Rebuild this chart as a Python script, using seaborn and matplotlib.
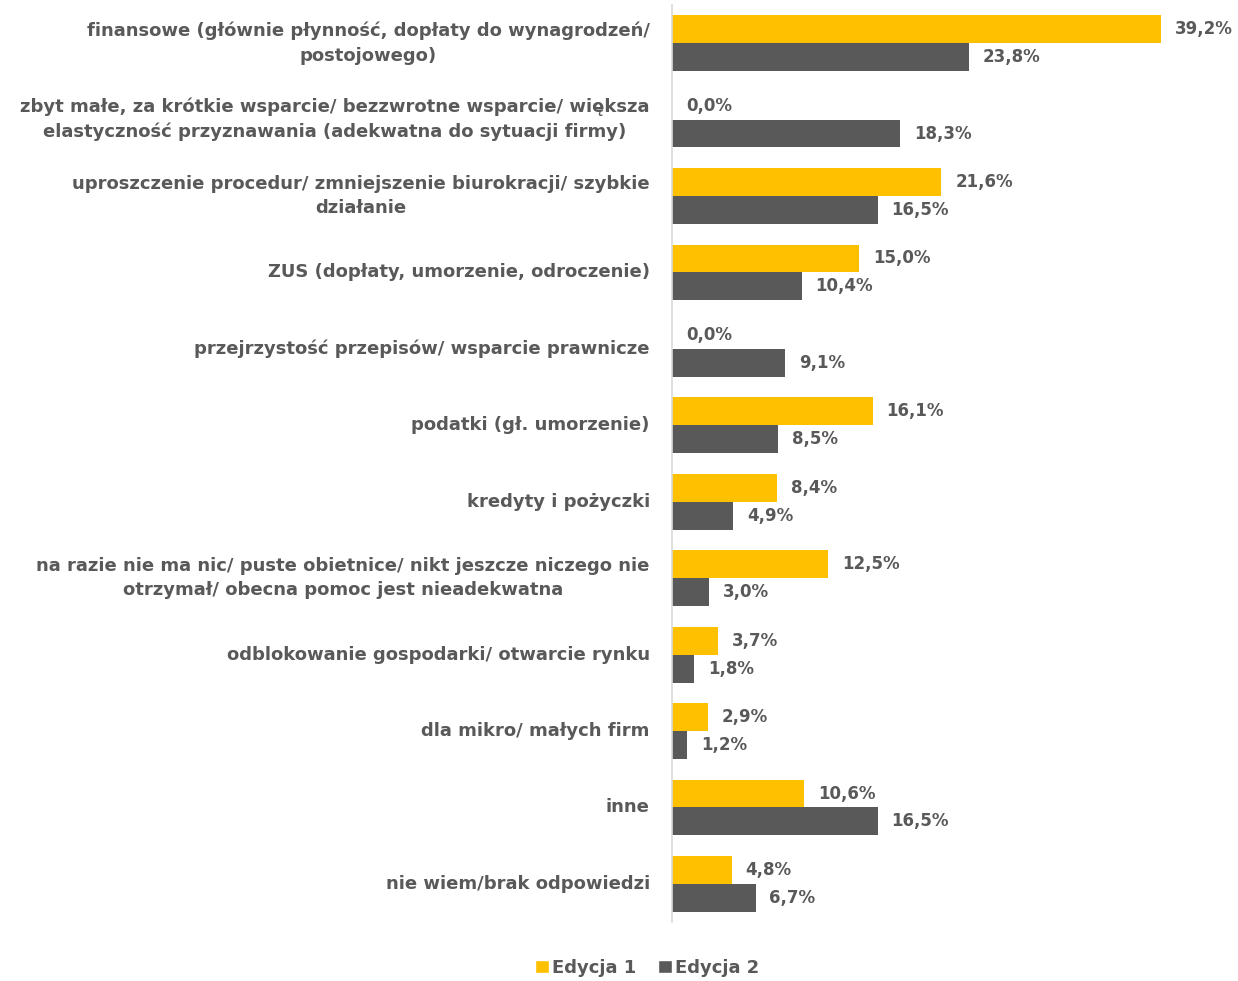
import matplotlib
matplotlib.use("Agg")
import matplotlib.pyplot as plt
from matplotlib.patches import Patch
import pandas as pd
import seaborn as sns

# data
categories = [
    "finansowe (głównie płynność, dopłaty do wynagrodzeń/\npostojowego)",
    "zbyt małe, za krótkie wsparcie/ bezzwrotne wsparcie/ większa\nelastyczność przyznawania (adekwatna do sytuacji firmy)",
    "uproszczenie procedur/ zmniejszenie biurokracji/ szybkie\ndziałanie",
    "ZUS (dopłaty, umorzenie, odroczenie)",
    "przejrzystość przepisów/ wsparcie prawnicze",
    "podatki (gł. umorzenie)",
    "kredyty i pożyczki",
    "na razie nie ma nic/ puste obietnice/ nikt jeszcze niczego nie\notrzymał/ obecna pomoc jest nieadekwatna",
    "odblokowanie gospodarki/ otwarcie rynku",
    "dla mikro/ małych firm",
    "inne",
    "nie wiem/brak odpowiedzi",
]
edycja_1 = [39.2, 0.0, 21.6, 15.0, 0.0, 16.1, 8.4, 12.5, 3.7, 2.9, 10.6, 4.8]
edycja_2 = [23.8, 18.3, 16.5, 10.4, 9.1, 8.5, 4.9, 3.0, 1.8, 1.2, 16.5, 6.7]
series = ["Edycja 1", "Edycja 2"]
colors = ["#FFC000", "#595959"]

df = pd.DataFrame({
    "kategoria": categories * 2,
    "wartosc": edycja_1 + edycja_2,
    "edycja": [series[0]] * len(categories) + [series[1]] * len(categories),
})

sns.set_style("white")
plt.rcParams["font.family"] = ["DejaVu Sans"]
text_color = "#595959"

fig = plt.figure(figsize=(12.38, 9.81), dpi=100)
ax = fig.add_axes([0.5428, 0.060, 0.4572, 0.935])

sns.barplot(data=df, y="kategoria", x="wartosc", hue="edycja", orient="h",
            palette=colors, saturation=1, width=0.73, linewidth=0,
            order=categories, hue_order=series, ax=ax, legend=False)

for cont in ax.containers:
    vals = cont.datavalues
    ax.bar_label(cont, labels=[f"{v:.1f}%".replace(".", ",") for v in vals],
                 padding=10, fontsize=12, fontweight="bold", color=text_color)

ax.set_xlim(0, 45.4)
ax.set_ylim(len(categories) - 0.5, -0.5)
ax.set_xlabel("")
ax.set_ylabel("")
ax.set_xticks([])
for side in ["top", "right", "bottom"]:
    ax.spines[side].set_visible(False)
ax.spines["left"].set_color("#D9D9D9")
ax.spines["left"].set_linewidth(1.2)
ax.tick_params(axis="y", length=0, pad=16)
for lbl in ax.get_yticklabels():
    lbl.set_fontsize(13)
    lbl.set_fontweight("bold")
    lbl.set_color(text_color)
    lbl.set_multialignment("center")
    lbl.set_linespacing(1.45)
    lbl.set_verticalalignment("center")

handles = [Patch(facecolor=c, label=s) for c, s in zip(colors, series)]
fig.legend(handles=handles, loc="lower center", bbox_to_anchor=(0.523, -0.012),
           ncol=2, frameon=False, handlelength=0.75, handleheight=0.75,
           handletextpad=0.2, columnspacing=1.2,
           prop={"size": 13, "weight": "bold"}, labelcolor=text_color)

fig.savefig("out.png", dpi=100)
